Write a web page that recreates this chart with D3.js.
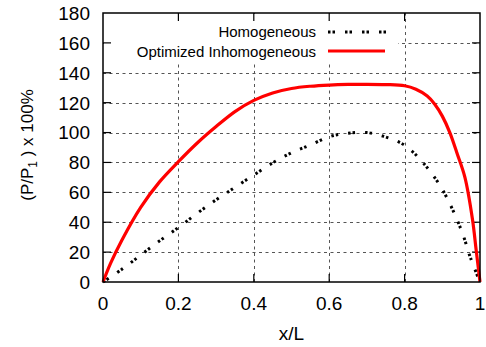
<!DOCTYPE html>
<html>
<head>
<meta charset="utf-8">
<script src="https://cdn.jsdelivr.net/npm/d3@7"></script>
<style>
  body { margin: 0; background: #fff; }
  svg { display: block; font-family: "Liberation Sans", Arial, Helvetica, sans-serif; }
</style>
</head>
<body>
<div id="chart"></div>
<script>
// values
const homX = [0, 0.05, 0.1, 0.15, 0.2, 0.25, 0.3, 0.35, 0.4, 0.45, 0.5, 0.55, 0.6, 0.65, 0.7, 0.75, 0.8, 0.85, 0.9, 0.95, 0.975, 1];
const homY = [0, 8.5, 18, 27.5, 36.5, 46, 55, 63.3, 71.6, 79.7, 86.5, 91.7, 97.2, 99.6, 100, 97, 91.5, 79.5, 62, 35, 16, 0];
const optX = [0, 0.02, 0.05, 0.1, 0.15, 0.2, 0.25, 0.3, 0.35, 0.4, 0.45, 0.5, 0.55, 0.6, 0.65, 0.7, 0.75, 0.8, 0.83, 0.86, 0.88, 0.9, 0.92, 0.94, 0.96, 0.98, 0.99, 1];
const optY = [0, 12.5, 28, 50, 67, 80.5, 93, 104, 114, 121.5, 126.5, 129.5, 131, 131.8, 132.2, 132.3, 132.1, 131.3, 129, 124.5, 119, 111, 100, 85.5, 70, 42, 21, 0];
const xTicks = [0, 0.2, 0.4, 0.6, 0.8, 1];
const yTicks = [0, 20, 40, 60, 80, 100, 120, 140, 160, 180];
const seriesNames = ["Homogeneous", "Optimized Inhomogeneous"];

var width = 486, height = 347;
var margin = { top: 13, right: 6, bottom: 65, left: 103 };

var svg = d3.select("#chart").append("svg")
  .attr("width", width)
  .attr("height", height);

var x = d3.scaleLinear().domain([0, 1]).range([margin.left, width - margin.right]);
var y = d3.scaleLinear().domain([0, 180]).range([height - margin.bottom, margin.top]);

// grid
var grid = svg.append("g").attr("class", "grid")
  .attr("stroke", "#555").attr("stroke-width", 1).attr("stroke-dasharray", "3,3.5");
grid.selectAll("line.gx").data(xTicks.slice(1, -1)).enter().append("line")
  .attr("x1", d => Math.round(x(d)) + 0.5).attr("x2", d => Math.round(x(d)) + 0.5)
  .attr("y1", y(0)).attr("y2", y(180));
grid.selectAll("line.gy").data(yTicks.slice(1, -1)).enter().append("line")
  .attr("y1", d => Math.round(y(d)) + 0.5).attr("y2", d => Math.round(y(d)) + 0.5)
  .attr("x1", x(0)).attr("x2", x(1));

// key background hides the grid behind it
svg.append("rect")
  .attr("x", x(0) + 1).attr("y", y(180) + 1)
  .attr("width", 397 - x(0)).attr("height", 47)
  .attr("fill", "#fff");

// ticks on all four sides, pointing in
var tl = 8;
var ticks = svg.append("g").attr("stroke", "#000").attr("stroke-width", 1.2);
xTicks.slice(1, -1).forEach(function(d) {
  ticks.append("line").attr("x1", x(d)).attr("x2", x(d)).attr("y1", y(0)).attr("y2", y(0) - tl);
  ticks.append("line").attr("x1", x(d)).attr("x2", x(d)).attr("y1", y(180)).attr("y2", y(180) + tl);
});
yTicks.slice(1, -1).forEach(function(d) {
  ticks.append("line").attr("y1", y(d)).attr("y2", y(d)).attr("x1", x(0)).attr("x2", x(0) + tl);
  ticks.append("line").attr("y1", y(d)).attr("y2", y(d)).attr("x1", x(1)).attr("x2", x(1) - tl);
});

// tick labels
svg.append("g").selectAll("text").data(xTicks).enter().append("text")
  .attr("x", d => x(d)).attr("y", 310)
  .attr("text-anchor", "middle").attr("font-size", 19)
  .text(d => d3.format("~g")(d));
svg.append("g").selectAll("text").data(yTicks).enter().append("text")
  .attr("x", 90).attr("y", d => y(d)).attr("dy", "0.36em")
  .attr("text-anchor", "end").attr("font-size", 19)
  .text(d => d);

// curves
var line = d3.line().x(d => x(d[0])).y(d => y(d[1])).curve(d3.curveCatmullRom.alpha(0.5));
var homData = homX.map((v, i) => [v, homY[i]]);
var optData = optX.map((v, i) => [v, optY[i]]);

svg.append("path").datum(homData)
  .attr("d", line).attr("fill", "none")
  .attr("stroke", "#000").attr("stroke-width", 3)
  .attr("stroke-dasharray", "2.5,2,2.5,10");
svg.append("path").datum(optData)
  .attr("d", line).attr("fill", "none")
  .attr("stroke", "#ff0000").attr("stroke-width", 3.2);

// frame
svg.append("rect")
  .attr("x", x(0)).attr("y", y(180))
  .attr("width", x(1) - x(0)).attr("height", y(0) - y(180))
  .attr("fill", "none").attr("stroke", "#000").attr("stroke-width", 1.5);

// key
var key = svg.append("g");
key.append("text").attr("x", 316).attr("y", 36.5).attr("text-anchor", "end")
  .attr("font-size", 15).text(seriesNames[0]);
key.append("text").attr("x", 316).attr("y", 56.5).attr("text-anchor", "end")
  .attr("font-size", 15).text(seriesNames[1]);
key.append("line").attr("x1", 328).attr("x2", 386).attr("y1", 32).attr("y2", 32)
  .attr("stroke", "#000").attr("stroke-width", 3).attr("stroke-dasharray", "2.5,2,2.5,10");
key.append("line").attr("x1", 328).attr("x2", 385).attr("y1", 51).attr("y2", 51)
  .attr("stroke", "#ff0000").attr("stroke-width", 3.2);

// axis titles
svg.append("text").attr("x", (x(0) + x(1)) / 2).attr("y", 340)
  .attr("text-anchor", "middle").attr("font-size", 19).text("x/L");

var yl = svg.append("text")
  .attr("transform", "translate(33,145) rotate(-90)")
  .attr("text-anchor", "middle").attr("font-size", 17);
yl.append("tspan").text("(P/P");
yl.append("tspan").attr("font-size", 12).attr("dy", 4).text("1");
yl.append("tspan").attr("dy", -4).text(" ) x 100%");
</script>
</body>
</html>
